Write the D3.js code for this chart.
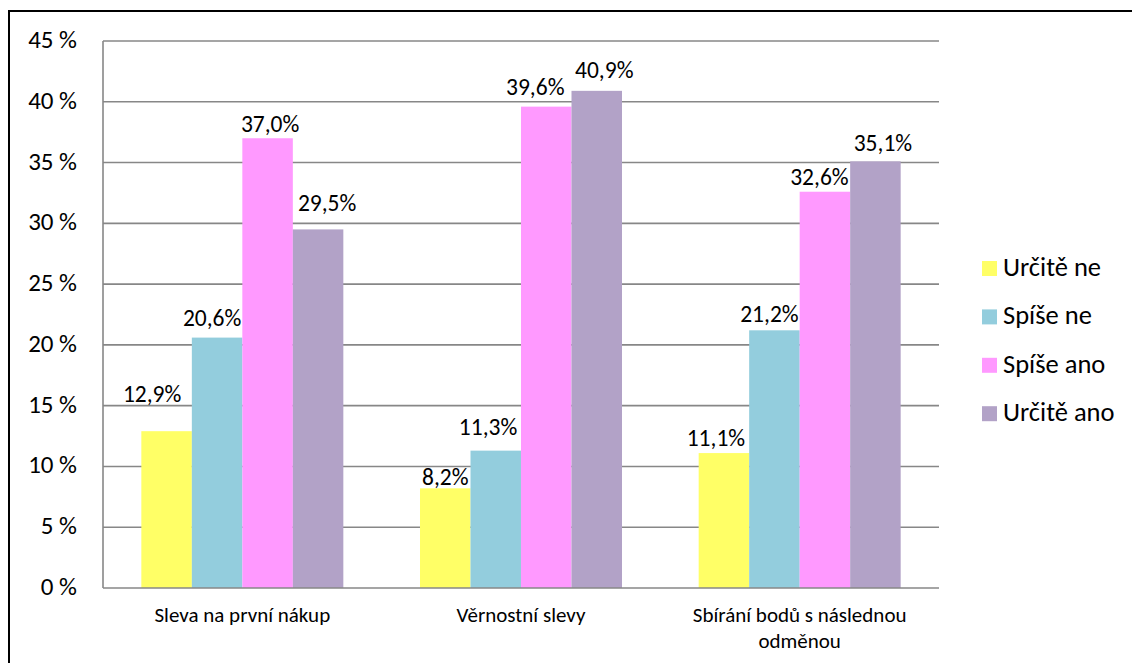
<!DOCTYPE html>
<html>
<head>
<meta charset="utf-8">
<script src="https://cdn.jsdelivr.net/npm/d3@7"></script>
<style>
  html, body { margin: 0; padding: 0; background: #fff; }
  svg { display: block; }
  text { font-family: Carlito, "Noto Sans", "Open Sans", sans-serif; fill: #000; }
</style>
</head>
<body>
<svg id="chart" width="1132" height="663"></svg>
<script>
// Survey answers per discount type (share of respondents, %)
const categories = ["Sleva na první nákup", "Věrnostní slevy", "Sbírání bodů s následnou odměnou"];
const seriesNames = ["Určitě ne", "Spíše ne", "Spíše ano", "Určitě ano"];
const urciteNe  = [12.9, 8.2, 11.1];
const spiseNe   = [20.6, 11.3, 21.2];
const spiseAno  = [37.0, 39.6, 32.6];
const urciteAno = [29.5, 40.9, 35.1];
const yTicks = [0, 5, 10, 15, 20, 25, 30, 35, 40, 45];

const seriesValues = [urciteNe, spiseNe, spiseAno, urciteAno];
const colors = ["#FFFF66", "#93CDDD", "#FF99FF", "#B2A2C7"];

// Label nudges [dx, lift above bar top] per category, per series
const labelNudge = [
  [[-14.5, 29], [-5, 11.6], [2.5, 6], [9, 18.7]],
  [[0, 3.3], [-7.7, 15.6], [-11, 11.6], [7.5, 13]],
  [[-8, 7.3], [-5, 8.6], [-5.5, 6.7], [7.5, 10.6]]
];

const svg = d3.select("#chart");

// Outer frame
svg.append("rect")
  .attr("x", 9).attr("y", 11)
  .attr("width", 1140).attr("height", 670)
  .attr("fill", "none").attr("stroke", "#000").attr("stroke-width", 2);

const plot = { left: 103, right: 939, top: 41, bottom: 588 };

const x0 = d3.scaleBand()
  .domain(categories)
  .range([plot.left, plot.right])
  .paddingInner(0).paddingOuter(0);

const barW = 50.5;
const x1 = d3.scaleBand()
  .domain(seriesNames)
  .range([0, barW * 4]);

const y = d3.scaleLinear().domain([0, 45]).range([plot.bottom, plot.top]);

// Gridlines
svg.append("g")
  .selectAll("line")
  .data(yTicks.filter(t => t > 0))
  .join("line")
  .attr("x1", plot.left).attr("x2", plot.right)
  .attr("y1", d => y(d)).attr("y2", d => y(d))
  .attr("stroke", "#878787").attr("stroke-width", 1.6);

// Y axis labels
const yAxis = d3.axisLeft(y).tickValues(yTicks).tickSize(0).tickPadding(0)
  .tickFormat(d => d + " %");
const yg = svg.append("g").attr("transform", `translate(${plot.left},0)`).call(yAxis);
yg.select(".domain").remove();
yg.selectAll("text")
  .attr("x", 77 - plot.left)
  .attr("dy", null)
  .attr("dominant-baseline", "auto")
  .attr("transform", "translate(0,6.5)")
  .attr("text-anchor", "end")
  .style("font-size", "25px")
  .style("font-family", 'Carlito, "Noto Sans", sans-serif');

// Bars
const groups = svg.append("g")
  .selectAll("g")
  .data(categories)
  .join("g")
  .attr("transform", d => `translate(${x0(d) + (x0.bandwidth() - barW * 4) / 2},0)`);

groups.each(function(cat, ci) {
  const g = d3.select(this);
  seriesNames.forEach((s, si) => {
    const v = seriesValues[si][ci];
    g.append("rect")
      .attr("x", x1(s))
      .attr("y", y(v))
      .attr("width", x1.bandwidth())
      .attr("height", y(0) - y(v))
      .attr("fill", colors[si]);
  });
});

// Axis lines
svg.append("line")
  .attr("x1", plot.left).attr("x2", plot.left)
  .attr("y1", plot.top).attr("y2", plot.bottom)
  .attr("stroke", "#878787").attr("stroke-width", 1.6);
svg.append("line")
  .attr("x1", plot.left).attr("x2", plot.right)
  .attr("y1", plot.bottom).attr("y2", plot.bottom)
  .attr("stroke", "#878787").attr("stroke-width", 1.6);

// Value labels
groups.each(function(cat, ci) {
  const g = d3.select(this);
  seriesNames.forEach((s, si) => {
    const v = seriesValues[si][ci];
    const [dx, lift] = labelNudge[ci][si];
    g.append("text")
      .attr("x", x1(s) + x1.bandwidth() / 2 + dx)
      .attr("y", y(v) - lift)
      .attr("text-anchor", "middle")
      .style("font-size", "23.5px")
      .text(v.toFixed(1).replace(".", ",") + "%");
  });
});

// Category labels (wrapped into lines)
const catLines = {
  "Sbírání bodů s následnou odměnou": ["Sbírání bodů s následnou", "odměnou"]
};
svg.append("g")
  .selectAll("text")
  .data(categories)
  .join("text")
  .attr("text-anchor", "middle")
  .style("font-size", "21px")
  .each(function(d) {
    const lines = catLines[d] || [d];
    const cx = x0(d) + x0.bandwidth() / 2;
    d3.select(this).selectAll("tspan")
      .data(lines)
      .join("tspan")
      .attr("x", cx)
      .attr("y", (l, i) => 622 + i * 25.5)
      .text(l => l);
  });

// Legend
const legend = svg.append("g")
  .selectAll("g")
  .data(seriesNames)
  .join("g")
  .attr("transform", (d, i) => `translate(982,${261 + i * 48.4})`);
legend.append("rect")
  .attr("width", 15).attr("height", 15)
  .attr("fill", (d, i) => colors[i]);
legend.append("text")
  .attr("x", 21).attr("y", 15)
  .style("font-size", "26.5px")
  .text(d => d);
</script>
</body>
</html>
